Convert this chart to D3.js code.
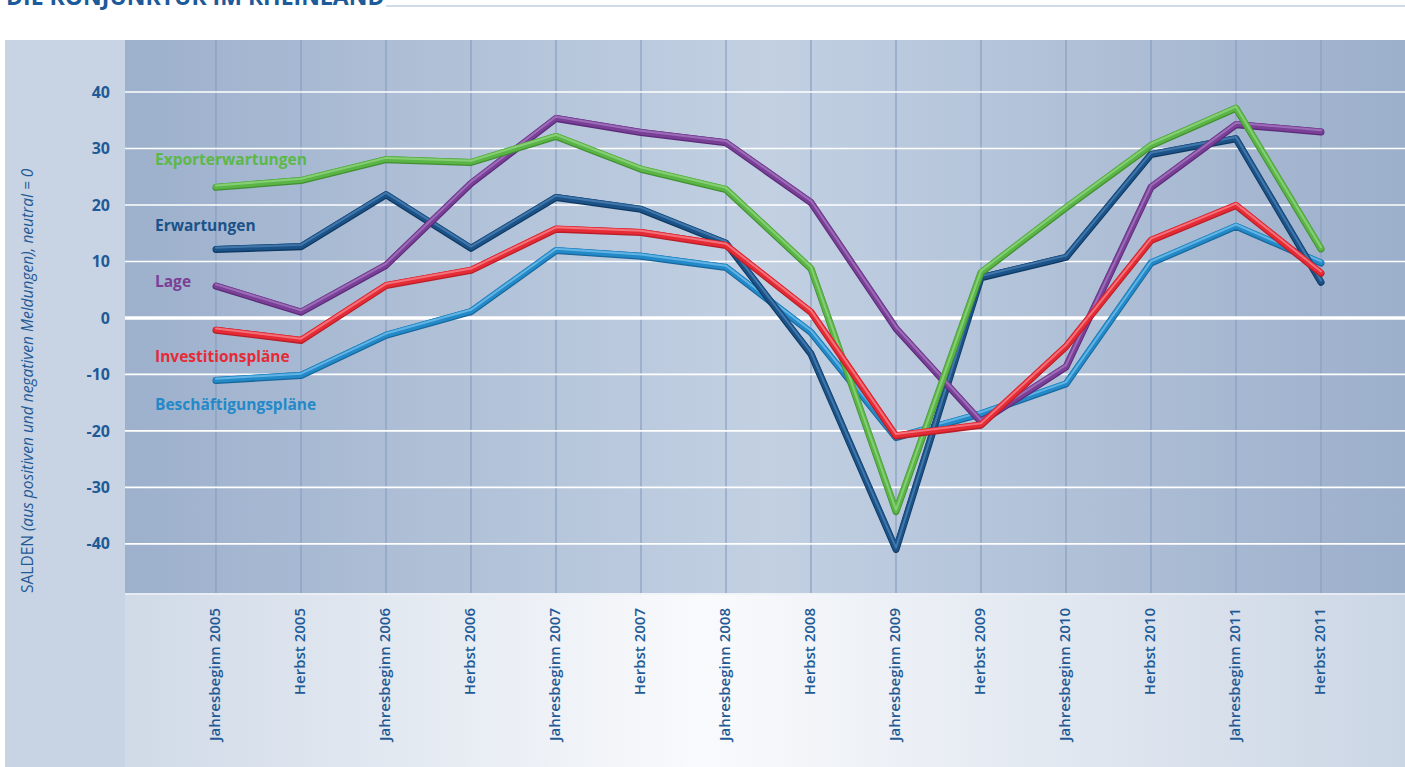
<!DOCTYPE html>
<meta charset="utf-8">
<style>
    body { margin: 0; background: #fff; }
    text { font-family: "Open Sans", "DejaVu Sans", sans-serif; }
    .axis path, .axis line { display: none; }
</style>
<svg width="1405" height="767"></svg>
<script src="https://cdn.jsdelivr.net/npm/d3@7"></script>
<script>

    // categories and series
    var categories = ["Jahresbeginn 2005", "Herbst 2005", "Jahresbeginn 2006", "Herbst 2006",
        "Jahresbeginn 2007", "Herbst 2007", "Jahresbeginn 2008", "Herbst 2008",
        "Jahresbeginn 2009", "Herbst 2009", "Jahresbeginn 2010", "Herbst 2010",
        "Jahresbeginn 2011", "Herbst 2011"];

    var exporterwartungen = [23.2, 24.4, 28.1, 27.6, 32.2, 26.4, 22.8, 8.8, -34.2, 8.1, 19.6, 30.6, 37.2, 12.3];
    var erwartungen = [12.2, 12.7, 21.9, 12.4, 21.4, 19.3, 13.3, -6.3, -40.9, 7.2, 10.8, 29.0, 31.8, 6.4];
    var lage = [5.7, 1.1, 9.4, 23.9, 35.4, 32.9, 31.1, 20.5, -1.8, -18.3, -8.6, 23.2, 34.3, 33.0];
    var investitionsplaene = [-2.1, -3.9, 5.8, 8.5, 15.8, 15.2, 12.9, 1.1, -20.8, -18.9, -5.0, 13.8, 20.0, 8.0];
    var beschaeftigungsplaene = [-11.0, -10.1, -3.0, 1.2, 12.0, 11.0, 9.0, -2.5, -21.1, -16.9, -11.6, 9.8, 16.3, 9.8];

    var yTicks = [-40, -30, -20, -10, 0, 10, 20, 30, 40];

    var textBlue = "#1f5a96";

    // drawing order bottom -> top
    var series = [
        {name: "Beschäftigungspläne", values: beschaeftigungsplaene, color: "#2389c8", light: "#7cc6ee", dark: "#17679b", labelY: 410},
        {name: "Erwartungen", values: erwartungen, color: "#1b5287", light: "#5187ba", dark: "#0e3862", labelY: 231},
        {name: "Lage", values: lage, color: "#7a3f96", light: "#aa80c4", dark: "#5b2a79", labelY: 287},
        {name: "Exporterwartungen", values: exporterwartungen, color: "#5ab546", light: "#98d987", dark: "#408f31", labelY: 165},
        {name: "Investitionspläne", values: investitionsplaene, color: "#e52b36", light: "#f89097", dark: "#b81e27", labelY: 362}
    ];

    (function ()
    {
        var svg = d3.select("svg");
        var defs = svg.append("defs");

        // background gradients
        var gBottom = defs.append("linearGradient").attr("id", "gBottom");
        gBottom.append("stop").attr("offset", "0%").attr("stop-color", "#c7d3e3");
        gBottom.append("stop").attr("offset", "50%").attr("stop-color", "#f9fafc");
        gBottom.append("stop").attr("offset", "100%").attr("stop-color", "#cbd6e5");

        var gPlot = defs.append("linearGradient").attr("id", "gPlot");
        gPlot.append("stop").attr("offset", "0%").attr("stop-color", "#9db0cc");
        gPlot.append("stop").attr("offset", "50%").attr("stop-color", "#c2d0e2");
        gPlot.append("stop").attr("offset", "100%").attr("stop-color", "#9cafcb");

        var pLeft = 125, pRight = 1405, pTop = 40, pBottom = 593;

        // panel
        svg.append("rect").attr("x", 5).attr("y", 40).attr("width", 1400).attr("height", 727)
            .attr("fill", "url(#gBottom)");
        svg.append("rect").attr("x", 5).attr("y", 40).attr("width", 120).attr("height", 727)
            .attr("fill", "#c8d4e4");
        svg.append("rect").attr("x", pLeft).attr("y", pTop).attr("width", pRight - pLeft).attr("height", pBottom - pTop)
            .attr("fill", "url(#gPlot)");

        // title (cut off at the top, as in the original)
        svg.append("text").attr("x", 6).attr("y", 5)
            .attr("fill", "#1c5a99").attr("font-size", 23).attr("font-weight", "bold")
            .text("DIE KONJUNKTUR IM RHEINLAND");
        svg.append("line").attr("x1", 386).attr("x2", 1405).attr("y1", 6).attr("y2", 6)
            .attr("stroke", "#cfdbe9").attr("stroke-width", 2);

        var x = d3.scalePoint().domain(categories).range([216, 1321]);
        var y = d3.scaleLinear().domain([-48.7, 49.2]).range([pBottom, pTop]);

        // vertical grid
        svg.append("g").selectAll("line").data(categories).join("line")
            .attr("x1", d => x(d)).attr("x2", d => x(d))
            .attr("y1", pTop).attr("y2", pBottom)
            .attr("stroke", "#889fc0").attr("stroke-width", 1.2);

        // horizontal grid
        svg.append("g").selectAll("line").data(yTicks).join("line")
            .attr("x1", pLeft).attr("x2", pRight)
            .attr("y1", d => y(d)).attr("y2", d => y(d))
            .attr("stroke", "#fff")
            .attr("stroke-width", d => d === 0 ? 3.5 : 1.6);

        svg.append("line").attr("x1", pLeft).attr("x2", pRight).attr("y1", pBottom + 1).attr("y2", pBottom + 1)
            .attr("stroke", "#eef2f7").attr("stroke-width", 1.5);

        // y axis
        var yAxis = svg.append("g").attr("class", "axis")
            .attr("transform", "translate(" + pLeft + ",0)")
            .call(d3.axisLeft(y).tickValues(yTicks).tickSize(0).tickPadding(15).tickFormat(d => String(d)));
        yAxis.selectAll("text")
            .attr("fill", textBlue).attr("font-size", 16).attr("font-weight", "bold");

        // x axis
        var xAxis = svg.append("g").attr("class", "axis")
            .attr("transform", "translate(0," + pBottom + ")")
            .call(d3.axisBottom(x).tickSize(0));
        xAxis.selectAll("text")
            .attr("transform", "rotate(-90)")
            .attr("x", -15).attr("y", -2).attr("dy", "0.35em")
            .attr("text-anchor", "end")
            .attr("fill", textBlue).attr("font-size", 15).attr("font-weight", 600);

        // y axis title
        var yTitle = svg.append("text")
            .attr("transform", "translate(33,593) rotate(-90)")
            .attr("fill", textBlue).attr("font-size", 15.5);
        yTitle.append("tspan").text("SALDEN ");
        yTitle.append("tspan").attr("font-style", "italic").text("(aus positiven und negativen Meldungen), neutral = 0");

        // lines with a tube-like shading
        var line = d3.line()
            .x((d, i) => x(categories[i]))
            .y(d => y(d));

        series.forEach(function (s)
        {
            var g = svg.append("g")
                .attr("fill", "none").attr("stroke-linejoin", "round").attr("stroke-linecap", "round");
            g.append("path").datum(s.values).attr("d", line)
                .attr("stroke", s.dark).attr("stroke-width", 7)
                .attr("transform", "translate(0,0.5)");
            g.append("path").datum(s.values).attr("d", line)
                .attr("stroke", s.color).attr("stroke-width", 5.8)
                .attr("transform", "translate(0,-0.2)");
            g.append("path").datum(s.values).attr("d", line)
                .attr("stroke", s.light).attr("stroke-width", 2).attr("stroke-opacity", 0.7)
                .attr("transform", "translate(0,-1.3)");
        });

        // series labels
        svg.append("g").selectAll("text").data(series).join("text")
            .attr("x", 155).attr("y", d => d.labelY)
            .attr("fill", d => d.name === "Exporterwartungen" ? "#5cb848" : d.color)
            .attr("font-size", 15.5).attr("font-weight", "bold")
            .text(d => d.name);
    })();

</script>
